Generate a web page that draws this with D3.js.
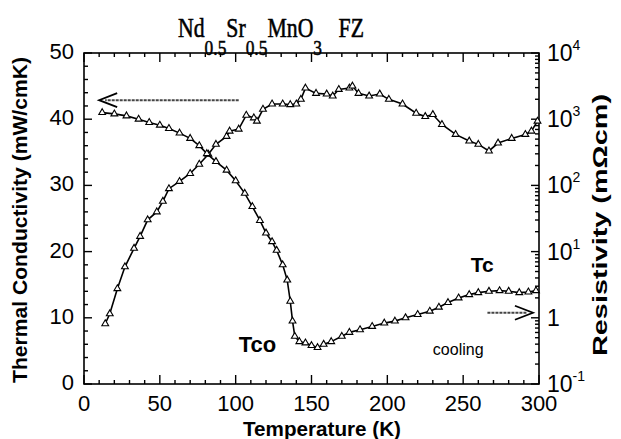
<!DOCTYPE html>
<html>
<head>
<meta charset="utf-8">
<script src="https://cdn.jsdelivr.net/npm/d3@7"></script>
<style>
  body { margin: 0; background: #fff; }
  svg { font-family: "Liberation Sans", Arial, sans-serif; }
</style>
</head>
<body>
<div id="chart"></div>
<script>
// thermal conductivity (mW/cmK), left axis
const kappaT = [14, 17, 22, 27, 33, 37, 42, 48, 52, 56, 63, 70, 76, 82, 87, 94, 96, 102, 107, 112, 114, 118, 124, 131, 136, 140, 143, 146, 153, 160, 164, 168, 175, 177, 181, 188, 195, 201, 210, 219, 225, 230, 236, 245, 254, 260, 267, 273, 282, 291, 295, 299];
const kappa = [9.1, 10.6, 14.4, 17.7, 20.5, 22.3, 24.8, 26, 27.6, 29.5, 30.6, 31.8, 33.2, 34.7, 36.2, 37.4, 38.2, 38.5, 40.6, 40.2, 39.7, 41.5, 42.3, 42.3, 42.2, 42.3, 43, 44.7, 43.9, 43.8, 43.5, 44.5, 44.7, 45, 43.9, 43.5, 43.8, 43, 42.3, 40.9, 40.4, 40.7, 39.2, 37.7, 36.7, 36.2, 35.2, 36.4, 37.1, 37.7, 38.2, 39.7];

// resistivity (mOhm cm), right log axis, given as log10
const rhoT = [12, 20, 28, 36, 43, 50, 56, 63, 70, 76, 81, 87, 94, 100, 106, 111, 116, 120, 124, 127, 131, 134, 136, 137.5, 139, 142, 146, 150, 154, 158, 163, 170, 175, 182, 190, 198, 205, 212, 220, 228, 234, 240, 247, 254, 260, 267, 274, 280, 287, 293, 298];
const rhoLog = [3.1, 3.08, 3.05, 3.0, 2.95, 2.91, 2.86, 2.79, 2.71, 2.6, 2.48, 2.36, 2.23, 2.07, 1.88, 1.68, 1.47, 1.28, 1.15, 1.02, 0.8, 0.57, 0.25, -0.05, -0.28, -0.36, -0.38, -0.42, -0.45, -0.4, -0.36, -0.28, -0.22, -0.18, -0.13, -0.08, -0.05, 0.0, 0.05, 0.1, 0.16, 0.23, 0.3, 0.35, 0.38, 0.4, 0.41, 0.4, 0.38, 0.39, 0.41];

const xTicks = [0, 50, 100, 150, 200, 250, 300];
const yTicks = [0, 10, 20, 30, 40, 50];
const rTicksExp = [-1, 0, 1, 2, 3, 4];

const margin = { top: 53, right: 82, bottom: 55, left: 84 };
const width = 621 - margin.left - margin.right;
const height = 439 - margin.top - margin.bottom;

const svg = d3.select("#chart").append("svg")
  .attr("width", 621)
  .attr("height", 439);

const g = svg.append("g")
  .attr("transform", `translate(${margin.left},${margin.top})`);

const x = d3.scaleLinear().domain([0, 300]).range([0, width]);
const y = d3.scaleLinear().domain([0, 50]).range([height, 0]);
const yr = d3.scaleLog().domain([0.1, 10000]).range([height, 0]);

// frame
g.append("rect")
  .attr("width", width).attr("height", height)
  .attr("fill", "none").attr("stroke", "#000").attr("stroke-width", 1.6);

// ticks (inward)
const minorX = d3.range(0, 301, 10);
g.selectAll(".xb").data(minorX).enter().append("line")
  .attr("x1", d => x(d)).attr("x2", d => x(d))
  .attr("y1", height).attr("y2", d => height - (d % 50 === 0 ? 9 : 4))
  .attr("stroke", "#000").attr("stroke-width", 1.4);
g.selectAll(".xt").data(minorX).enter().append("line")
  .attr("x1", d => x(d)).attr("x2", d => x(d))
  .attr("y1", 0).attr("y2", d => (d % 50 === 0 ? 9 : 4))
  .attr("stroke", "#000").attr("stroke-width", 1.4);

const minorY = d3.range(0, 50.1, 2);
g.selectAll(".yl").data(minorY).enter().append("line")
  .attr("x1", 0).attr("x2", d => (d % 10 === 0 ? 8 : 4))
  .attr("y1", d => y(d)).attr("y2", d => y(d))
  .attr("stroke", "#000").attr("stroke-width", 1.4);

const minorR = [];
rTicksExp.forEach(e => {
  if (e < 4) for (let m = 1; m < 10; m++) minorR.push({ v: m * Math.pow(10, e), major: m === 1 });
  else minorR.push({ v: 1e4, major: true });
});
g.selectAll(".yr").data(minorR).enter().append("line")
  .attr("x1", width).attr("x2", d => width - (d.major ? 8 : 4))
  .attr("y1", d => yr(d.v)).attr("y2", d => yr(d.v))
  .attr("stroke", "#000").attr("stroke-width", 1.4);

// tick labels
g.selectAll(".xl").data(xTicks).enter().append("text")
  .attr("x", d => x(d)).attr("y", height + 27)
  .attr("text-anchor", "middle").attr("font-size", 22)
  .text(d => d);

g.selectAll(".ylab").data(yTicks).enter().append("text")
  .attr("x", -10).attr("y", d => y(d) + 6)
  .attr("text-anchor", "end").attr("font-size", 22)
  .text(d => d);

const rl = g.selectAll(".rlab").data(rTicksExp).enter().append("text")
  .attr("x", width + 8).attr("y", d => yr(Math.pow(10, d)) + 8)
  .attr("font-size", 23);
rl.each(function(d) {
  const t = d3.select(this);
  if (d === 0) { t.text("1"); return; }
  t.append("tspan").text("10");
  t.append("tspan").attr("dy", -11).attr("font-size", 14).text(d);
});

// curves
const markerTri = d3.symbol().type(d3.symbolTriangle).size(20);

const kPts = kappaT.map((t, i) => [t, kappa[i]]);
g.append("path")
  .attr("d", d3.line().x(d => x(d[0])).y(d => y(d[1]))(kPts))
  .attr("fill", "none").attr("stroke", "#000").attr("stroke-width", 1.6);
g.selectAll(".km").data(kPts).enter().append("path")
  .attr("d", markerTri)
  .attr("transform", d => `translate(${x(d[0])},${y(d[1])})`)
  .attr("fill", "#fff").attr("stroke", "#000").attr("stroke-width", 1.1);

const rPts = rhoT.map((t, i) => [t, Math.pow(10, rhoLog[i])]);
g.append("path")
  .attr("d", d3.line().x(d => x(d[0])).y(d => yr(d[1]))(rPts))
  .attr("fill", "none").attr("stroke", "#000").attr("stroke-width", 1.6);
g.selectAll(".rm").data(rPts).enter().append("path")
  .attr("d", markerTri)
  .attr("transform", d => `translate(${x(d[0])},${yr(d[1])})`)
  .attr("fill", "#fff").attr("stroke", "#000").attr("stroke-width", 1.1);

// arrows
function arrow(x1, x2, yy) {
  const dir = Math.sign(x2 - x1);
  g.append("line")
    .attr("x1", x(x1)).attr("x2", x(x2) - dir * 6)
    .attr("y1", yr(yy)).attr("y2", yr(yy))
    .attr("stroke", "#444").attr("stroke-width", 2).attr("stroke-dasharray", "3,1");
  const hx = x(x2), hy = yr(yy);
  g.append("path")
    .attr("d", `M${hx - dir * 18},${hy - 7} L${hx},${hy} L${hx - dir * 18},${hy + 7}`)
    .attr("fill", "none").attr("stroke", "#000").attr("stroke-width", 1.8);
}
// left arrow near top (kappa -> left axis), right arrow near bottom (rho -> right axis)
arrow(102, 10, Math.pow(10, 4 - 47 / 66));
arrow(266, 296, Math.pow(10, 4 - 259 / 66));

// annotations
g.append("text").attr("x", x(102)).attr("y", yr(0.3))
  .attr("font-size", 22).attr("font-weight", "bold").text("Tco");
g.append("text").attr("x", x(255)).attr("y", yr(5))
  .attr("font-size", 21).attr("font-weight", "bold").text("Tc");
g.append("text").attr("x", x(230)).attr("y", yr(0.27))
  .attr("font-size", 16).text("cooling");

// axis titles
svg.append("text")
  .attr("transform", "translate(27,220) rotate(-90)")
  .attr("text-anchor", "middle").attr("font-size", 20).attr("font-weight", "bold")
  .attr("textLength", 326).attr("lengthAdjust", "spacingAndGlyphs")
  .text("Thermal  Conductivity  (mW/cmK)");

svg.append("text")
  .attr("transform", "translate(607,225) rotate(-90)")
  .attr("text-anchor", "middle").attr("font-size", 20).attr("font-weight", "bold")
  .attr("textLength", 262).attr("lengthAdjust", "spacingAndGlyphs")
  .text("Resistivity  (mΩcm)");

svg.append("text")
  .attr("x", 322).attr("y", 436)
  .attr("text-anchor", "middle").attr("font-size", 20).attr("font-weight", "bold")
  .attr("textLength", 158).attr("lengthAdjust", "spacingAndGlyphs")
  .text("Temperature    (K)");

// title
const title = svg.append("text")
  .attr("transform", "translate(178,37) scale(0.87,1.1)")
  .attr("font-family", "'Liberation Serif', 'DejaVu Serif', serif")
  .attr("font-size", 25).attr("font-weight", "normal")
  .attr("stroke", "#000").attr("stroke-width", 0.5);
title.append("tspan").text("Nd");
title.append("tspan").attr("dy", 16).attr("font-size", 20).text("0.5");
title.append("tspan").attr("dy", -16).text("Sr");
title.append("tspan").attr("dy", 16).attr("font-size", 20).text("0.5");
title.append("tspan").attr("dy", -16).text("MnO");
title.append("tspan").attr("dy", 16).attr("font-size", 20).text("3");
title.append("tspan").attr("dy", -16).attr("dx", 19).text("FZ");
</script>
</body>
</html>
